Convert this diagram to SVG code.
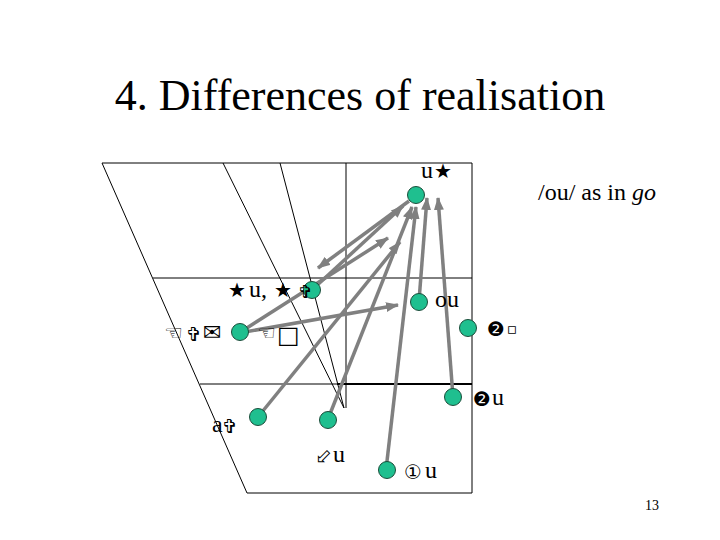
<svg xmlns="http://www.w3.org/2000/svg" width="720" height="540" viewBox="0 0 720 540">
<style>
.t{font-family:"Liberation Serif","Times New Roman","DejaVu Serif",serif;fill:#000}
.s{font-family:"DejaVu Sans","Liberation Serif",sans-serif;fill:#000}
.ch{stroke:#000;stroke-width:1;fill:none}
.c{stroke:#808080;stroke-width:3.5;fill:none;marker-end:url(#ah)}
.n{fill:#1fbf8f;stroke:#1b4d3a;stroke-width:1}
</style>
<defs>
<marker id="ah" markerWidth="13" markerHeight="10" refX="12" refY="5" orient="auto" markerUnits="userSpaceOnUse">
<path d="M0,0 L13,5 L0,10 z" fill="#808080"/>
</marker>
</defs>
<rect width="720" height="540" fill="#fff"/>
<text class="t" x="360" y="110" font-size="44" text-anchor="middle">4. Differences of realisation</text>
<g id="chart">
<path class="ch" d="M102,163 L247,493 L472,493 L472,163 Z"/>
<path class="ch" d="M153,278 L472,278"/>
<path class="ch" d="M200,384 L337,384"/>
<path d="M337,384 L472,384" stroke="#000" stroke-width="2"/>
<path class="ch" d="M346,163 L346,408"/>
<path class="ch" d="M223,163 L344,408"/>
<path class="ch" d="M280,163 L344,408"/>
</g>
<g id="connectors">
<line class="c" x1="409" y1="201" x2="318" y2="268"/>
<line class="c" x1="313" y1="289" x2="403" y2="206"/>
<line class="c" x1="239" y1="333" x2="388" y2="238"/>
<line class="c" x1="258" y1="417" x2="400" y2="242"/>
<line class="c" x1="239" y1="333" x2="398" y2="305"/>
<line class="c" x1="328" y1="419" x2="412" y2="207"/>
<line class="c" x1="386" y1="470" x2="416" y2="207"/>
<line class="c" x1="419" y1="301" x2="427" y2="198"/>
<line class="c" x1="453" y1="397" x2="438" y2="198"/>
</g>
<g id="node-uu"><circle class="n" cx="416" cy="195" r="8.5"/>
<text class="t" x="421" y="178" font-size="24">u</text><text class="s" x="434" y="178" font-size="20">★</text></g>
<g id="node-star-u"><circle class="n" cx="312" cy="290" r="8.5"/>
<text class="s" x="228" y="297" font-size="20">★</text><text class="t" x="249" y="297" font-size="24">u,</text><text class="s" x="274" y="297" font-size="20">★</text><text class="s" x="298" y="298" font-size="18">✞</text></g>
<g id="node-ou"><circle class="n" cx="419" cy="302" r="8.5"/>
<text class="t" x="435" y="307" font-size="24">ou</text></g>
<g id="node-left"><circle class="n" cx="240" cy="332" r="8.5"/>
<text class="s" x="164" y="340" font-size="21">☜</text><text class="s" x="186" y="341" font-size="19">✞</text><text class="s" x="203" y="340" font-size="22">✉</text>
<text class="s" x="257" y="340" font-size="21">☜</text><text class="s" x="277" y="343" font-size="24">□</text></g>
<g id="node-right-upper"><circle class="n" cx="468" cy="328" r="8.5"/>
<text class="s" x="487" y="336" font-size="20">❷</text><text class="s" x="507" y="334" font-size="15">▫</text></g>
<g id="node-right-lower"><circle class="n" cx="453" cy="397" r="8.5"/>
<text class="s" x="473" y="406" font-size="20">❷</text><text class="t" x="492" y="405" font-size="24">u</text></g>
<g id="node-a"><circle class="n" cx="258" cy="417" r="8.5"/>
<text class="t" x="212" y="432" font-size="24">a</text><text class="s" x="222" y="433" font-size="19">✞</text></g>
<g id="node-mid"><circle class="n" cx="328" cy="420" r="8.5"/>
<text class="s" x="315" y="463" font-size="20">⬃</text><text class="t" x="333" y="462" font-size="24">u</text></g>
<g id="node-bottom"><circle class="n" cx="387" cy="470" r="8.5"/>
<text class="s" x="404" y="479" font-size="20">①</text><text class="t" x="425" y="478" font-size="24">u</text></g>
<text class="t" x="538" y="200" font-size="24">/ou/ as in <tspan font-style="italic">go</tspan></text>
<text class="t" x="645" y="510" font-size="14">13</text>
</svg>
